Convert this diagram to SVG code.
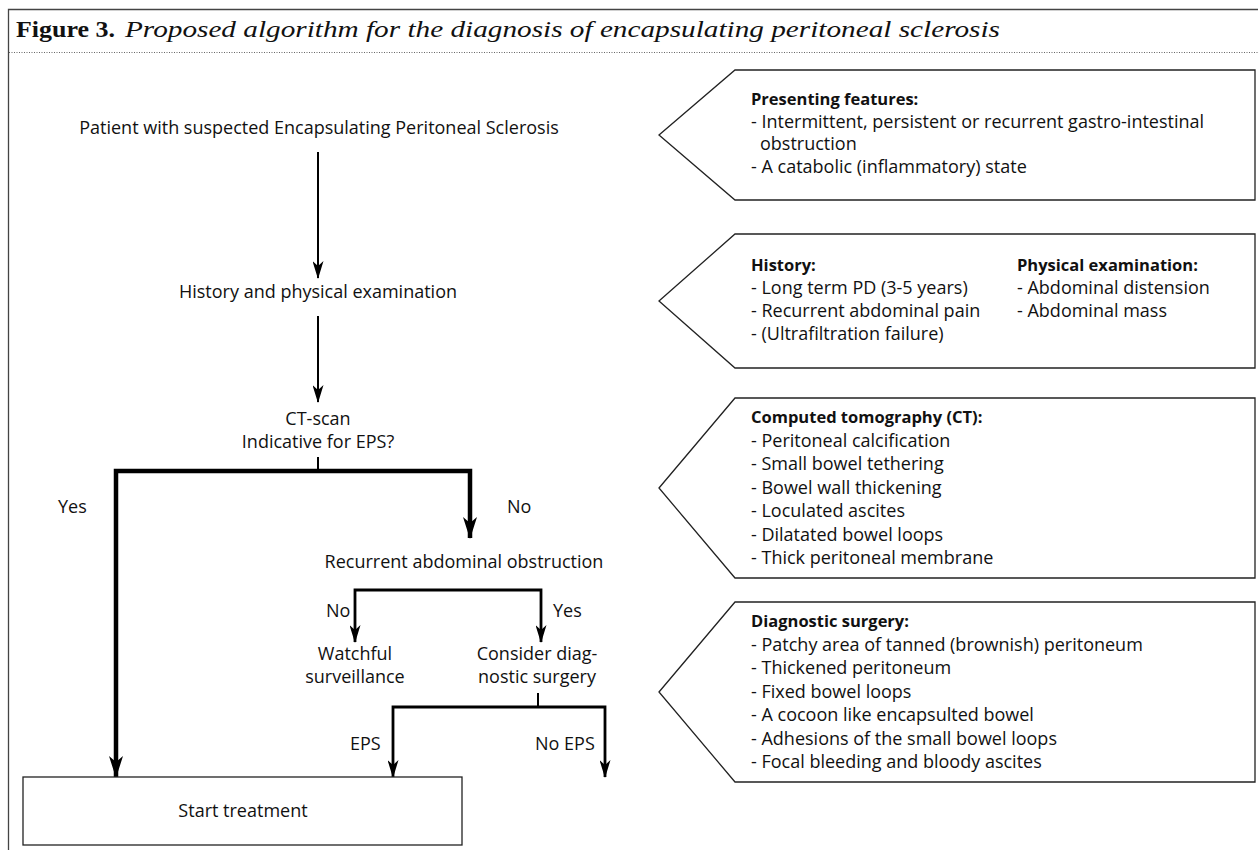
<svg xmlns="http://www.w3.org/2000/svg" width="1258" height="850" viewBox="0 0 1258 850">
<defs>
<style>
.t{font-family:"Open Sans","Liberation Sans",sans-serif;font-size:18px;fill:#111}
.b{font-weight:bold;font-size:16.5px}
.m{text-anchor:middle}
.box{fill:#fff;stroke:#222;stroke-width:1.3}
.c1{fill:none;stroke:#000;stroke-width:2}
.c2{fill:none;stroke:#000;stroke-width:4.5}
.c3{fill:none;stroke:#000;stroke-width:2.8}
.ttl{font-family:"Liberation Serif","Times New Roman",serif;font-size:24px;fill:#111}
</style>
<marker id="ah" viewBox="0 0 18 11" refX="17" refY="5.5" markerWidth="18" markerHeight="11" markerUnits="userSpaceOnUse" orient="auto">
<path d="M0,0 L18,5.5 L0,11 L5,5.5 Z" fill="#000"/>
</marker>
<marker id="ahb" viewBox="0 0 22 14" refX="21" refY="7" markerWidth="22" markerHeight="14" markerUnits="userSpaceOnUse" orient="auto">
<path d="M0,0 L22,7 L0,14 L6,7 Z" fill="#000"/>
</marker>
</defs>
<rect x="0" y="0" width="1258" height="850" fill="#fff"/>
<g id="frame">
<path d="M8.5,850 V9.5 H1258" fill="none" stroke="#444" stroke-width="1.3"/>
<line x1="9" y1="52.5" x2="1258" y2="52.5" stroke="#666" stroke-width="1" stroke-dasharray="1,1.5"/>
<text class="ttl" x="16" y="37" font-weight="bold" textLength="99" lengthAdjust="spacingAndGlyphs">Figure 3.</text>
<text class="ttl" x="125" y="37" font-style="italic" textLength="875" lengthAdjust="spacingAndGlyphs">Proposed algorithm for the diagnosis of encapsulating peritoneal sclerosis</text>
</g>
<g id="connectors">
<path class="c1" d="M318,152 V278" marker-end="url(#ah)"/>
<path class="c1" d="M318,316 V402" marker-end="url(#ah)"/>
<path class="c1" d="M318,457 V471"/>
<path class="c2" d="M318,471 H116 V777" marker-end="url(#ahb)"/>
<path class="c2" d="M318,471 H470 V538" marker-end="url(#ahb)"/>
<path class="c3" d="M448,590 H355 V642" marker-end="url(#ah)"/>
<path class="c3" d="M448,590 H541 V642" marker-end="url(#ah)"/>
<path class="c1" d="M538,693 V707"/>
<path class="c3" d="M538,707 H393 V777" marker-end="url(#ah)"/>
<path class="c3" d="M538,707 H605 V777" marker-end="url(#ah)"/>
<text class="t" x="58" y="513">Yes</text>
<text class="t" x="507" y="513">No</text>
<text class="t" x="326" y="617">No</text>
<text class="t" x="553" y="617">Yes</text>
<text class="t" x="350" y="750">EPS</text>
<text class="t" x="535" y="750">No EPS</text>
</g>
<g id="n-patient"><text class="t m" x="319" y="134">Patient with suspected Encapsulating Peritoneal Sclerosis</text></g>
<g id="n-history"><text class="t m" x="318" y="298">History and physical examination</text></g>
<g id="n-ct"><text class="t m" x="318" y="425">CT-scan</text><text class="t m" x="318" y="448">Indicative for EPS?</text></g>
<g id="n-recurrent"><text class="t m" x="464" y="568">Recurrent abdominal obstruction</text></g>
<g id="n-watchful"><text class="t m" x="355" y="660">Watchful</text><text class="t m" x="355" y="683">surveillance</text></g>
<g id="n-consider"><text class="t m" x="537" y="660">Consider diag-</text><text class="t m" x="537" y="683">nostic surgery</text></g>
<g id="n-start"><rect class="box" x="23" y="777" width="439" height="68"/><text class="t m" x="243" y="817">Start treatment</text></g>
<g id="n-presenting">
<path class="box" d="M659,135 L735,70 H1255 V200 H735 Z"/>
<text class="t b" x="751" y="105">Presenting features:</text>
<text class="t" x="751" y="127.5">- Intermittent, persistent or recurrent gastro-intestinal</text>
<text class="t" x="760" y="150">obstruction</text>
<text class="t" x="751" y="172.5">- A catabolic (inflammatory) state</text>
</g>
<g id="n-histbox">
<path class="box" d="M659,301 L735,234 H1255 V368 H735 Z"/>
<text class="t b" x="751" y="271">History:</text>
<text class="t" x="751" y="294">- Long term PD (3-5 years)</text>
<text class="t" x="751" y="317">- Recurrent abdominal pain</text>
<text class="t" x="751" y="340">- (Ultrafiltration failure)</text>
<text class="t b" x="1017" y="271">Physical examination:</text>
<text class="t" x="1017" y="294">- Abdominal distension</text>
<text class="t" x="1017" y="317">- Abdominal mass</text>
</g>
<g id="n-ctbox">
<path class="box" d="M659,488 L735,398 H1255 V578 H735 Z"/>
<text class="t b" x="751" y="423">Computed tomography (CT):</text>
<text class="t" x="751" y="446.5">- Peritoneal calcification</text>
<text class="t" x="751" y="470">- Small bowel tethering</text>
<text class="t" x="751" y="493.5">- Bowel wall thickening</text>
<text class="t" x="751" y="517">- Loculated ascites</text>
<text class="t" x="751" y="540.5">- Dilatated bowel loops</text>
<text class="t" x="751" y="564">- Thick peritoneal membrane</text>
</g>
<g id="n-surgbox">
<path class="box" d="M659,692 L735,602 H1255 V782 H735 Z"/>
<text class="t b" x="751" y="627">Diagnostic surgery:</text>
<text class="t" x="751" y="650.5">- Patchy area of tanned (brownish) peritoneum</text>
<text class="t" x="751" y="674">- Thickened peritoneum</text>
<text class="t" x="751" y="697.5">- Fixed bowel loops</text>
<text class="t" x="751" y="721">- A cocoon like encapsulted bowel</text>
<text class="t" x="751" y="744.5">- Adhesions of the small bowel loops</text>
<text class="t" x="751" y="768">- Focal bleeding and bloody ascites</text>
</g>
</svg>
